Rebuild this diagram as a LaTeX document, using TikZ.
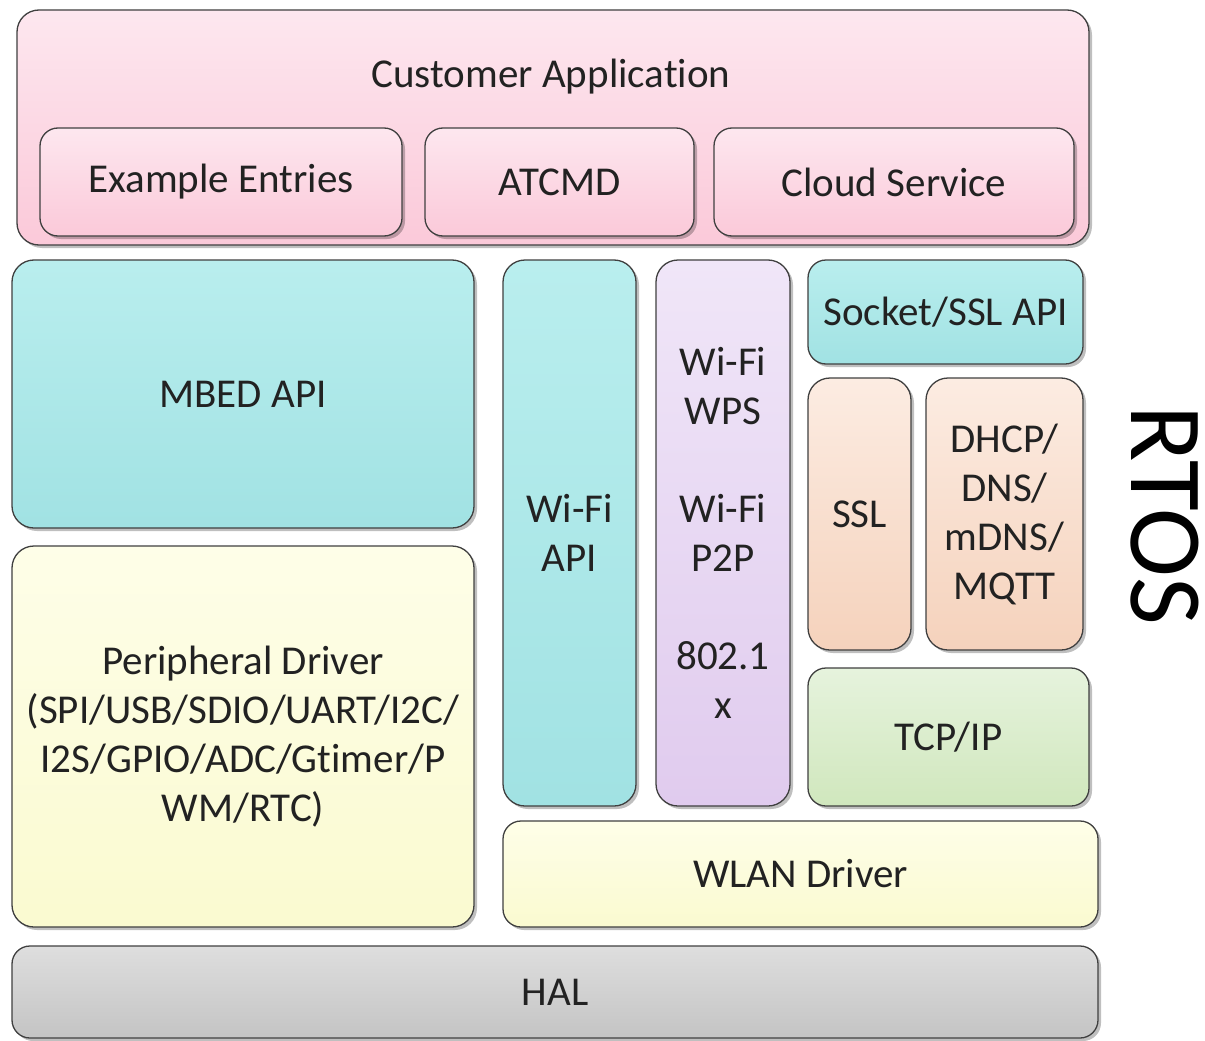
\documentclass[tikz,border=0pt]{standalone}
\usepackage{fontspec}
\setmainfont[Ligatures={NoCommon}]{Carlito}
\usetikzlibrary{shadows}
\definecolor{pinkT}{HTML}{FDE7EF}\definecolor{pinkB}{HTML}{FBC9D9}
\definecolor{tealT}{HTML}{B9EEEE}\definecolor{tealB}{HTML}{A1E2E3}
\definecolor{yelT}{HTML}{FEFEE8}\definecolor{yelB}{HTML}{FAFAD0}
\definecolor{lavT}{HTML}{F0E6F8}\definecolor{lavB}{HTML}{E0CBEE}
\definecolor{peaT}{HTML}{FCECE2}\definecolor{peaB}{HTML}{F5D2BC}
\definecolor{grnT}{HTML}{E6F3DD}\definecolor{grnB}{HTML}{D0E7BD}
\definecolor{gryT}{HTML}{DEDEDE}\definecolor{gryB}{HTML}{C4C4C4}
\definecolor{edge}{HTML}{404040}
\definecolor{ink}{HTML}{222222}
\tikzset{
  box/.style={draw=edge, line width=1.3pt, rounded corners=22pt, inner sep=0pt,
    align=center, text=ink, font=\fontsize{41}{49}\selectfont,
    drop shadow={shadow xshift=3pt, shadow yshift=-3pt, opacity=0.25, fill=black}},
  pinkbox/.style={box, top color=pinkT, bottom color=pinkB},
  tealbox/.style={box, top color=tealT, bottom color=tealB},
  yelbox/.style={box, top color=yelT, bottom color=yelB},
  lavbox/.style={box, top color=lavT, bottom color=lavB},
  peabox/.style={box, top color=peaT, bottom color=peaB},
  grnbox/.style={box, top color=grnT, bottom color=grnB},
  grybox/.style={box, top color=gryT, bottom color=gryB},
  lbl/.style={text=ink, font=\fontsize{41}{49}\selectfont, inner sep=0pt}
}
\begin{document}
\begin{tikzpicture}[x=1pt,y=-1pt]
\useasboundingbox (0,0) rectangle (1205,1041);
\fill[white] (0,0) rectangle (1205,1041);
% Customer application layer
\node[pinkbox, minimum width=1072pt, minimum height=235pt] (cust) at (553,127.5) {};
\node[lbl] (custlbl) at (551,77) {Customer Application};
\node[pinkbox, rounded corners=18pt, minimum width=362pt, minimum height=108pt] (ex) at (221,182) {Example Entries};
\node[pinkbox, rounded corners=18pt, minimum width=269pt, minimum height=108pt] (atcmd) at (559.5,182) {ATCMD};
\node[pinkbox, rounded corners=18pt, minimum width=360pt, minimum height=108pt] (cloud) at (894,182) {Cloud Service};
% middle
\node[tealbox, minimum width=462pt, minimum height=268pt] (mbed) at (243,394) {MBED API};
\node[yelbox, minimum width=462pt, minimum height=381pt] (periph) at (243,736.5)
  {Peripheral Driver\\(SPI/USB/SDIO/UART/I2C/\\I2S/GPIO/ADC/Gtimer/P\\WM/RTC)};
\node[tealbox, minimum width=133pt, minimum height=546pt] (wifiapi) at (569.5,533) {Wi-Fi\\API};
\node[lavbox, minimum width=134pt, minimum height=546pt] (wps) at (723,533)
  {Wi-Fi\\WPS\\\mbox{}\\Wi-Fi\\P2P\\\mbox{}\\802.1\\x};
\node[tealbox, rounded corners=18pt, minimum width=275pt, minimum height=104pt] (sock) at (945.5,312) {Socket/SSL API};
\node[peabox, minimum width=103pt, minimum height=272pt] (ssl) at (859.5,514) {SSL};
\node[peabox, minimum width=157pt, minimum height=272pt] (dhcp) at (1004.5,514) {DHCP/\\DNS/\\mDNS/\\MQTT};
\node[grnbox, rounded corners=18pt, minimum width=281pt, minimum height=138pt] (tcp) at (948.5,737) {TCP/IP};
\node[yelbox, rounded corners=18pt, minimum width=595pt, minimum height=106pt] (wlan) at (800.5,874) {WLAN Driver};
\node[grybox, rounded corners=18pt, minimum width=1086pt, minimum height=92pt] (hal) at (555,992) {HAL};
% RTOS
\node[text=black, inner sep=0pt, rotate=-90, font=\fontsize{104}{110}\selectfont] (rtos) at (1165,515) {RTOS};
\end{tikzpicture}
\end{document}
